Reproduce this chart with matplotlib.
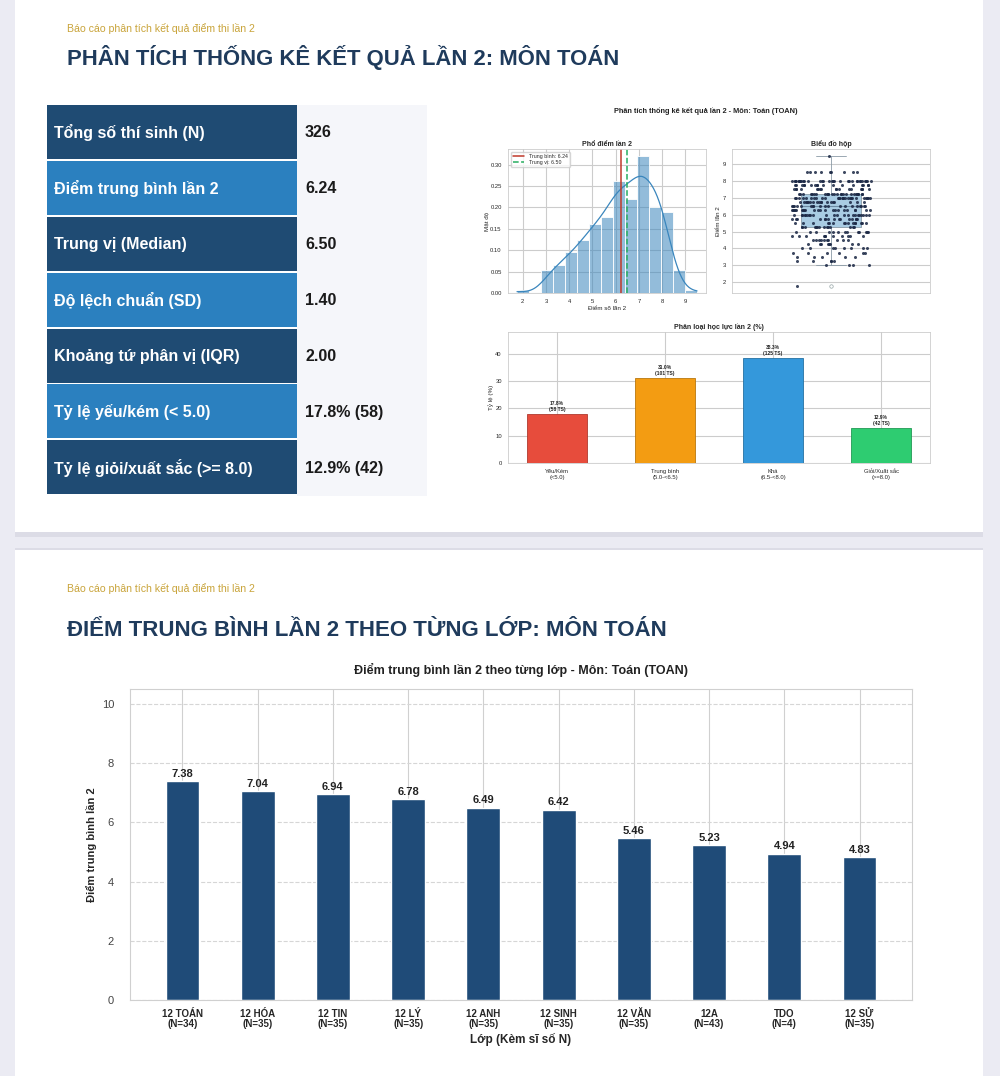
import numpy as np
import matplotlib
matplotlib.use("Agg")
import matplotlib.pyplot as plt
from matplotlib.patches import Rectangle
import seaborn as sns

# ----------------------------------------------------
# Data
# ----------------------------------------------------
stat_labels = [
    "Tổng số thí sinh (N)",
    "Điểm trung bình lần 2",
    "Trung vị (Median)",
    "Độ lệch chuẩn (SD)",
    "Khoảng tứ phân vị (IQR)",
    "Tỷ lệ yếu/kém (< 5.0)",
    "Tỷ lệ giỏi/xuất sắc (>= 8.0)",
]
stat_values = ["326", "6.24", "6.50", "1.40", "2.00", "17.8% (58)", "12.9% (42)"]

# score level -> number of students
score_levels = [1.75, 3.0, 3.25, 3.5, 3.75, 4.0, 4.25, 4.5, 4.75,
                5.0, 5.25, 5.5, 5.75, 6.0, 6.25, 6.5, 6.75,
                7.0, 7.25, 7.5, 7.75, 8.0, 8.5, 9.5]
score_counts = [1, 4, 5, 5, 6, 8, 8, 10, 11,
                13, 14, 15, 15, 22, 22, 19, 18,
                28, 26, 17, 17, 32, 9, 1]
mean_score = 6.24
median_score = 6.50

level_names = ["Yếu/Kém\n(<5.0)", "Trung bình\n(5.0-<6.5)",
               "Khá\n(6.5-<8.0)", "Giỏi/Xuất sắc\n(>=8.0)"]
level_pct = [17.8, 31.0, 38.3, 12.9]
level_n = [58, 101, 125, 42]
level_colors = ["#e74c3c", "#f39c12", "#3498db", "#2ecc71"]
level_edges = ["#b03a2e", "#b9770e", "#2471a3", "#229954"]

classes = ["12 TOÁN", "12 HÓA", "12 TIN", "12 LÝ", "12 ANH",
           "12 SINH", "12 VĂN", "12A", "TDO", "12 SỬ"]
class_n = [34, 35, 35, 35, 35, 35, 35, 43, 4, 35]
class_mean = [7.38, 7.04, 6.94, 6.78, 6.49, 6.42, 5.46, 5.23, 4.94, 4.83]

scores = np.repeat(score_levels, score_counts)

# ----------------------------------------------------
# Figure + helpers (pixel coords, origin top-left)
# ----------------------------------------------------
sns.set_style("whitegrid")
plt.rcParams["font.family"] = ["Liberation Sans", "DejaVu Sans"]

W, H = 1000, 1076
fig = plt.figure(figsize=(W / 100, H / 100), dpi=100, facecolor="#ebebf3")

NAVY = "#1f3b5c"
GOLD = "#c9a43a"


def rect(l, t, r, b):
    return [l / W, 1 - b / H, (r - l) / W, (b - t) / H]


def block(l, t, r, b, color, z=-2):
    fig.patches.append(Rectangle((l / W, 1 - b / H), (r - l) / W, (b - t) / H,
                                 transform=fig.transFigure, facecolor=color,
                                 edgecolor="none", zorder=z))


def label(x, y, s, **kw):
    fig.text(x / W, 1 - y / H, s, va="center", **kw)


# cards
block(15, 532, 983, 537, "#dcdce6")
block(15, 0, 983, 532, "white")
block(15, 550, 983, 1076, "white")
block(15, 548, 983, 550, "#dcdce6")

# ----------------------------------------------------
# Slide 1 header
# ----------------------------------------------------
label(67, 28, "Báo cáo phân tích kết quả điểm thi lần 2", fontsize=7.6, color=GOLD)
label(67, 58, "PHÂN TÍCH THỐNG KÊ KẾT QUẢ LẦN 2: MÔN TOÁN",
      fontsize=15.9, fontweight="bold", color=NAVY)

# ----------------------------------------------------
# Summary table
# ----------------------------------------------------
row_top, row_h = 105, 55.9
block(297, row_top, 427, row_top + 7 * row_h, "#f5f6fa", z=-1)
for i, (name, val) in enumerate(zip(stat_labels, stat_values)):
    t = row_top + i * row_h
    c = "#1f4b73" if i % 2 == 0 else "#2b80bf"
    block(47, t, 297, t + row_h - 2, c, z=-1)
    label(54, t + row_h / 2, name, fontsize=11.5, fontweight="bold", color="white")
    label(305, t + row_h / 2, val, fontsize=11.5, fontweight="bold", color="#1a1a1a")

# ----------------------------------------------------
# Embedded analysis figure
# ----------------------------------------------------
fig.text(706 / W, 1 - 111 / H, "Phân tích thống kê kết quả lần 2 - Môn: Toán (TOAN)",
         ha="center", va="center", fontsize=5.3, fontweight="bold", color="#222222")

ax1 = fig.add_axes(rect(508, 149, 706, 293))
sns.histplot(x=scores, bins=15, stat="density", kde=True, color="#3a86bd",
             alpha=0.55, edgecolor="white", linewidth=0.6,
             line_kws={"linewidth": 0.9}, ax=ax1)
ax1.axvline(mean_score, color="#c0392b", lw=1.1, label=f"Trung bình: {mean_score:.2f}")
ax1.axvline(median_score, color="#27ae60", lw=1.1, ls="--",
            label=f"Trung vị: {median_score:.2f}")
ax1.legend(loc="upper left", fontsize=3.8, frameon=True, handlelength=2.2,
           borderpad=0.4, labelspacing=0.3)
ax1.set_title("Phổ điểm lần 2", fontsize=5, fontweight="bold", pad=2)
ax1.set_xlabel("Điểm số lần 2", fontsize=4.5, labelpad=1)
ax1.set_ylabel("Mật độ", fontsize=4.5, labelpad=1)
ax1.set_xticks(range(2, 10))
ax1.set_yticks([0, 0.05, 0.10, 0.15, 0.20, 0.25, 0.30])
ax1.tick_params(labelsize=4.2, pad=1)
for s in ax1.spines.values():
    s.set_linewidth(0.6)

ax2 = fig.add_axes(rect(732, 149, 930, 293))
ax2.boxplot(scores, positions=[0], widths=0.3, patch_artist=True, manage_ticks=False,
            boxprops=dict(facecolor="#a9cce3", edgecolor="#8a9aa6", lw=0.6),
            medianprops=dict(color="#6c8ba3", lw=0.8),
            whiskerprops=dict(color="#8a9aa6", lw=0.6),
            capprops=dict(color="#8a9aa6", lw=0.6),
            flierprops=dict(marker="o", markerfacecolor="white",
                            markeredgecolor="#95a5a6", markersize=2.5, mew=0.5))
np.random.seed(7)
sns.stripplot(y=scores, jitter=0.2, size=2.2, color="#1b2845", alpha=0.85, ax=ax2)
ax2.set_xlim(-0.5, 0.5)
ax2.set_xticks([])
ax2.set_ylim(1.36, 9.89)
ax2.set_yticks(range(2, 10))
ax2.set_title("Biểu đồ hộp", fontsize=5, fontweight="bold", pad=2)
ax2.set_ylabel("Điểm lần 2", fontsize=4.5, labelpad=1)
ax2.tick_params(labelsize=4.2, pad=1)
for s in ax2.spines.values():
    s.set_linewidth(0.6)

ax3 = fig.add_axes(rect(508, 332, 930, 463))
bars = ax3.bar(range(len(level_pct)), level_pct, width=0.55, color=level_colors,
               edgecolor=level_edges, linewidth=0.6)
for b, p, n in zip(bars, level_pct, level_n):
    ax3.text(b.get_x() + b.get_width() / 2, b.get_height() + 0.8,
             f"{p:.1f}%\n({n} TS)", ha="center", va="bottom",
             fontsize=3.6, fontweight="bold", color="#222222")
ax3.set_xticks(range(len(level_names)))
ax3.set_xticklabels(level_names, fontsize=4.2)
ax3.set_ylim(0, max(level_pct) * 1.25)
ax3.set_yticks([0, 10, 20, 30, 40])
ax3.set_ylabel("Tỷ lệ (%)", fontsize=4.5, labelpad=1)
ax3.set_title("Phân loại học lực lần 2 (%)", fontsize=5, fontweight="bold", pad=2)
ax3.tick_params(labelsize=4.2, pad=1)
for s in ax3.spines.values():
    s.set_linewidth(0.6)

# ----------------------------------------------------
# Slide 2 : mean per class
# ----------------------------------------------------
label(67, 589, "Báo cáo phân tích kết quả điểm thi lần 2", fontsize=7.6, color=GOLD)
label(67, 630, "ĐIỂM TRUNG BÌNH LẦN 2 THEO TỪNG LỚP: MÔN TOÁN",
      fontsize=16.0, fontweight="bold", color=NAVY)

ax4 = fig.add_axes(rect(130, 689, 912, 1000))
bars = ax4.bar(range(len(classes)), class_mean, width=0.45, color="#1f4b78")
for b, v in zip(bars, class_mean):
    ax4.text(b.get_x() + b.get_width() / 2, v + 0.08, f"{v:.2f}",
             ha="center", va="bottom", fontsize=8, fontweight="bold", color="#222222")
ax4.set_xticks(range(len(classes)))
ax4.set_xticklabels([f"{c}\n(N={n})" for c, n in zip(classes, class_n)],
                    fontsize=7, fontweight="bold", linespacing=1.0)
ax4.set_ylim(0, 10.5)
ax4.set_yticks([0, 2, 4, 6, 8, 10])
ax4.tick_params(axis="y", labelsize=8, labelcolor="#444444", pad=8)
ax4.tick_params(axis="x", pad=3)
ax4.grid(axis="y", linestyle="--", color="#d6d6d6", lw=0.8)
ax4.grid(axis="x", linestyle="-", color="#d0d0d0", lw=0.8)
for s in ax4.spines.values():
    s.set_color("#d0d0d0")
ax4.set_title("Điểm trung bình lần 2 theo từng lớp - Môn: Toán (TOAN)",
              fontsize=9, fontweight="bold", color="#222222", pad=11)
ax4.set_xlabel("Lớp (Kèm sĩ số N)", fontsize=8.5, fontweight="bold", labelpad=3)
ax4.set_ylabel("Điểm trung bình lần 2", fontsize=8, fontweight="bold", labelpad=3)

fig.savefig("out.png", dpi=100, facecolor=fig.get_facecolor())
